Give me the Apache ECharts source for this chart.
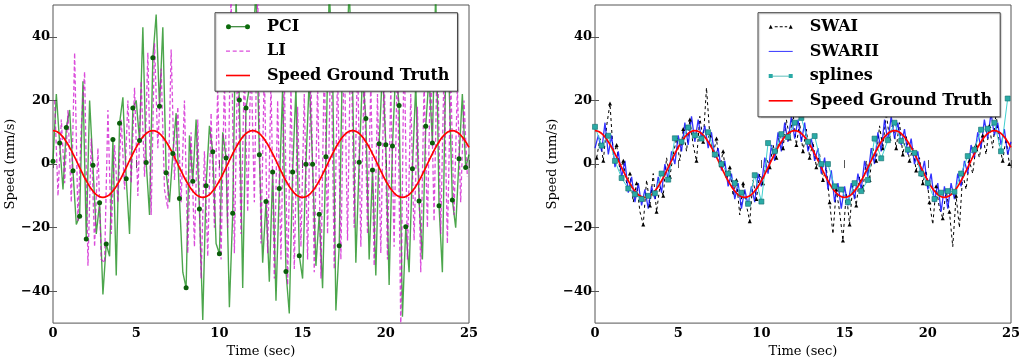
<!DOCTYPE html>
<html><head><meta charset="utf-8">
<script src="https://cdn.jsdelivr.net/npm/echarts@6/dist/echarts.min.js"></script>
<style>html,body{margin:0;padding:0;background:#fff}#c{width:1024px;height:363px}</style>
</head><body><div id="c"></div>
<script>
// ---- data ----
const xTicks = [0, 5, 10, 15, 20, 25];
const yTicks = [-40, -20, 0, 20, 40];

// Speed ground truth, sampled every 0.25 s from t = 0
const truthStart = 0, truthStep = 0.25;
const truth = [
 10.5,10.14,9.09,7.42,5.25,2.72,0,-2.72,-5.25,-7.42,-9.09,-10.14,-10.5,-10.14,-9.09,-7.42,-5.25,-2.72,0,2.72,5.25,7.42,9.09,10.14,
 10.5,10.14,9.09,7.42,5.25,2.72,0,-2.72,-5.25,-7.42,-9.09,-10.14,-10.5,-10.14,-9.09,-7.42,-5.25,-2.72,0,2.72,5.25,7.42,9.09,10.14,
 10.5,10.14,9.09,7.42,5.25,2.72,0,-2.72,-5.25,-7.42,-9.09,-10.14,-10.5,-10.14,-9.09,-7.42,-5.25,-2.72,0,2.72,5.25,7.42,9.09,10.14,
 10.5,10.14,9.09,7.42,5.25,2.72,0,-2.72,-5.25,-7.42,-9.09,-10.14,-10.5,-10.14,-9.09,-7.42,-5.25,-2.72,0,2.72,5.25,7.42,9.09,10.14,
 10.5,10.14,9.09,7.42,5.25
];

// PCI, every 0.2 s from t = 0 (markers on every second sample)
const pciStart = 0, pciStep = 0.2;
const pci = [
 0.9,22,6.6,-8,11.5,17,-2.1,-19,-16.4,26,-23.6,20,-0.4,-22,-12.2,-41,-25.1,-29,7.7,-35,
 12.8,21,-4.6,-22,17.6,20,7.4,43,0.5,-16,33.4,47,18.2,43,-2.7,-12,3.3,16,-10.8,-34,
 -38.9,9,-5.4,14,-14.1,-49,-6.8,12,3.9,-25,-28.2,10,1.9,-45,-15.5,52,20.1,-39,17.6,24,
 36,55,2.9,-31,-11.8,-37,-2.5,-43,-7.7,24,-33.8,-47,-2.5,24,-28.8,-36,-0.1,27,-0.1,-32,
 -15.8,-39,2.3,55,31,-46,-25.7,35,28,55,26,-31,0.6,28,14.3,-30,-1.9,-35,6.4,30,
 6.1,-38,5.7,30,18.4,-48,-19.7,-34,-1.5,25,-11.6,-30,11.9,28,6.6,55,-13.1,-34,30,26,
 -11.3,-20,1.7,22,-1.1,3
];

// LI, every 0.2 s from t = 0.1
const liStart = 0.1, liStep = 0.2;
const li = [
 20,-10,14,-6,17,-12,35,-18,12,29,-32,8,-26,5,-30,-31,17,-22,6,-12,
 14,-8,20,-6,24,-10,26,-4,35,-16,38,5,30,-8,-14,36,-5,18,-12,20,
 -28,10,-26,14,-36,4,-29,16,-20,24,-30,27,-20,55,-28,35,-22,30,-15,34,
 -12,55,-25,30,-28,26,-36,20,-30,28,-38,24,-33,18,-26,22,-30,30,-34,26,
 -36,32,-22,42,-33,30,-30,38,-24,44,-20,34,-26,30,-22,26,-32,22,-28,30,
 -30,24,-26,36,-52,40,-30,22,-24,18,-34,26,-20,34,-18,38,-22,30,-25,28,
 -16,24,-12,20,-4
];

// SWAI, every 0.2 s from t = 0.1
const swaiStart = 0.1, swaiStep = 0.2;
const swai = [
 2,8,1,12,19,3,6,-2,1,-6,-3,-12,-6,-15,-19,-5,-13,-3,-15,-7,
 -10,2,-4,3,8,1,11,4,14,6,1,15,7,24,9,3,8,-1,4,-5,
 -1,-10,-5,-16,-6,-13,-18,-5,-11,-3,-6,2,-1,6,2,10,5,14,8,16,
 6,13,4,11,2,7,-1,3,-5,-1,-12,-22,-8,-15,-24,-9,-19,-6,-13,-4,
 -8,1,-5,5,1,12,5,16,8,13,5,13,3,9,1,5,-2,2,-6,-2,
 -12,-19,-7,-14,-17,-8,-15,-26,-10,-20,-3,-8,1,-3,6,2,9,3,12,5,
 16,6,1,8,0
];

// SWARII, every 0.2 s from t = 0
const swariiStart = 0, swariiStep = 0.2;
const swarii = [
 5,9,4,13,3,9,-1,4,-4,1,-9,-4,-12,-6,-13,-8,-14,-7,-11,-4,-9,0,-5,4,0,9,4,13,6,15,
 7,14,8,12,5,10,2,5,-2,1,-7,-3,-11,-6,-14,-8,-13,-7,-12,-3,-7,2,-3,6,1,10,4,13,7,15,
 8,14,7,13,4,8,1,5,-3,2,-8,-2,-12,-6,-14,-7,-13,-6,-11,-3,-8,1,-4,5,0,10,4,14,7,15,
 8,13,6,11,3,8,0,4,-4,1,-8,-3,-12,-6,-15,-7,-14,-6,-11,-3,-7,1,-3,6,2,10,5,14,8,16,
 9,13,6,11,3,7
];

// splines, every 0.4 s from t = 0
const splinesStart = 0, splinesStep = 0.4;
const splines = [
 11.7,5.8,8.9,1,-4.4,-7.7,-9.5,-11,-10,-9.2,-3,-4.9,8.1,7,11.5,9,8,10,3,0,
 -3,-6,-9,-12.5,-3.5,-11.8,6.6,4,9.4,8.5,13,14.5,7,8.8,0,0,-7,-8,-12,-6,
 -8.5,-5,8,1.8,7.5,13,7.3,4.5,3.5,-3,-6,-11,-9,-8.5,-8.7,-3,2.5,4.5,10.8,11.1,
 13,4,20.6
];

// ---- helpers ----
function pairs(start, step, vals) {
  return vals.map((v, i) => [Math.round((start + i * step) * 100) / 100, v]);
}
const SERIF = "'DejaVu Serif', 'Liberation Serif', serif";
const minusFmt = v => (v < 0 ? '\u2212' + Math.abs(v) : String(v));

const GRID_LEFT = [53, 595];
const grids = GRID_LEFT.map(l => ({
  left: l, top: 5, width: 416, height: 322,
  show: true, borderColor: '#555', borderWidth: 1, backgroundColor: 'transparent'
}));

const xAxes = [], yAxes = [];
[0, 1].forEach(g => {
  xAxes.push({
    gridIndex: g, type: 'value', min: 0, max: 25, interval: 5, position: 'bottom',
    name: 'Time (sec)', nameLocation: 'middle', nameGap: 16,
    nameTextStyle: { fontFamily: SERIF, fontSize: 13, color: '#000' },
    axisLine: { show: false }, splitLine: { show: false },
    axisTick: { inside: true, length: 4, lineStyle: { color: '#555' }, customValues: xTicks },
    axisLabel: { fontFamily: SERIF, fontWeight: 'bold', fontSize: 13, color: '#000', margin: 4,
                 customValues: xTicks, formatter: minusFmt }
  });
  xAxes.push({
    gridIndex: g, type: 'value', min: 0, max: 25, interval: 5, position: 'top',
    axisLine: { show: false }, splitLine: { show: false }, axisLabel: { show: false },
    axisTick: { inside: true, length: 4, lineStyle: { color: '#555' }, customValues: xTicks }
  });
  yAxes.push({
    gridIndex: g, type: 'value', min: -50, max: 50, interval: 10, position: 'left',
    name: 'Speed (mm/s)', nameLocation: 'middle', nameGap: 36,
    nameTextStyle: { fontFamily: SERIF, fontSize: 13, color: '#000' },
    axisLine: { show: false }, splitLine: { show: false },
    axisTick: { inside: true, length: 4, lineStyle: { color: '#555' }, customValues: yTicks },
    axisLabel: { fontFamily: SERIF, fontWeight: 'bold', fontSize: 13, color: '#000', margin: 3,
                 customValues: yTicks, formatter: minusFmt }
  });
  yAxes.push({
    gridIndex: g, type: 'value', min: -50, max: 50, interval: 10, position: 'right',
    axisLine: { show: false }, splitLine: { show: false }, axisLabel: { show: false },
    axisTick: { inside: true, length: 4, lineStyle: { color: '#555' }, customValues: yTicks }
  });
});
// axis indices: grid0 -> x 0 (bottom), y 0 (left); grid1 -> x 2, y 2

const pciPairs = pairs(pciStart, pciStep, pci);
const pciMarkers = pciPairs.filter((_, i) => i % 2 === 0);

const series = [
  { name: 'PCI', type: 'line', xAxisIndex: 0, yAxisIndex: 0, data: pciPairs,
    symbol: 'circle', showSymbol: false, z: 2,
    lineStyle: { color: 'rgba(0,128,0,0.7)', width: 1.4 }, itemStyle: { color: '#0b6b0b' } },
  { name: 'LI', type: 'line', xAxisIndex: 0, yAxisIndex: 0, data: pairs(liStart, liStep, li),
    symbol: 'none', z: 2,
    lineStyle: { color: 'rgba(204,0,204,0.7)', width: 1.3, type: [4, 2.5] }, itemStyle: { color: 'rgba(204,0,204,0.7)' } },
  { name: 'PCI', type: 'scatter', xAxisIndex: 0, yAxisIndex: 0, data: pciMarkers,
    symbol: 'circle', symbolSize: 5, z: 3, itemStyle: { color: '#0b5e0b', opacity: 1 } },
  { name: 'Speed Ground Truth', type: 'line', xAxisIndex: 0, yAxisIndex: 0,
    data: pairs(truthStart, truthStep, truth), smooth: true, symbol: 'none', z: 3,
    lineStyle: { color: '#ff0000', width: 1.7 }, itemStyle: { color: '#ff0000' } },

  { name: 'SWAI', type: 'line', xAxisIndex: 2, yAxisIndex: 2, data: pairs(swaiStart, swaiStep, swai),
    symbol: 'triangle', showSymbol: true, z: 2,
    symbolSize: (v, p) => (p.dataIndex % 2 === 0 ? 4 : 0),
    lineStyle: { color: '#000', width: 1, type: [3, 3] }, itemStyle: { color: '#000', borderWidth: 0 } },
  { name: 'SWARII', type: 'line', xAxisIndex: 2, yAxisIndex: 2, data: pairs(swariiStart, swariiStep, swarii),
    symbol: 'none', z: 2,
    lineStyle: { color: 'rgba(0,0,255,0.8)', width: 1.3 }, itemStyle: { color: 'rgba(0,0,255,0.8)' } },
  { name: 'splines', type: 'line', xAxisIndex: 2, yAxisIndex: 2, data: pairs(splinesStart, splinesStep, splines),
    symbol: 'rect', symbolSize: 5, showSymbol: true, z: 3,
    lineStyle: { color: '#3fd0d0', width: 1 },
    itemStyle: { color: '#2aaaa6', borderColor: '#136e6b', borderWidth: 0.6 } },
  { name: 'Speed Ground Truth', type: 'line', xAxisIndex: 2, yAxisIndex: 2,
    data: pairs(truthStart, truthStep, truth), smooth: true, symbol: 'none', z: 3,
    lineStyle: { color: '#ff0000', width: 1.7 }, itemStyle: { color: '#ff0000' } }
];

const ICON_PCI = 'path://M0,7a2.5,2.5 0 1,0 5,0a2.5,2.5 0 1,0 -5,0z M19,7a2.5,2.5 0 1,0 5,0a2.5,2.5 0 1,0 -5,0z M5,6.5h14v1h-14z';
const ICON_LI = 'path://M0,6.4h4v1.2h-4z M6.7,6.4h4v1.2h-4z M13.4,6.4h4v1.2h-4z M20,6.4h4v1.2h-4z';
const ICON_SWAI = 'path://M0,9L2,5L4,9z M20,9L22,5L24,9z M6,6.5h3v1h-3z M11,6.5h3v1h-3z M16,6.5h2.5v1h-2.5z';
const ICON_SPL = 'path://M0,5h4v4h-4z M20,5h4v4h-4z M4,6.6h16v0.8h-16z';
const ICON_RED = 'path://M0,6.2h24v1.6h-24z';
const ICON_BLUE = 'path://M0,6.5h24v1h-24z';

const legendCommon = {
  orient: 'vertical', itemWidth: 24, itemHeight: 14, selectedMode: false, z: 20,
  backgroundColor: '#fff', borderColor: '#444', borderWidth: 1, borderRadius: 0,
  shadowColor: 'rgba(0,0,0,0.25)', shadowOffsetX: 1, shadowOffsetY: 1, shadowBlur: 1,
  symbolKeepAspect: true,
  itemStyle: { borderWidth: 0 },
  textStyle: { fontFamily: SERIF, fontWeight: 'bold', fontSize: 16, lineHeight: 16, color: '#000', padding: [0, 0, 0, 12] }
};

const option = {
  animation: false,
  backgroundColor: '#fff',
  grid: grids,
  xAxis: xAxes,
  yAxis: yAxes,
  legend: [
    Object.assign({}, legendCommon, {
      left: 215, top: 12.7, itemGap: 8.4, padding: [6, 8, 7.7, 11],
      data: [{ name: 'PCI', icon: ICON_PCI }, { name: 'LI', icon: ICON_LI }, { name: 'Speed Ground Truth', icon: ICON_RED }]
    }),
    Object.assign({}, legendCommon, {
      left: 758, top: 12.7, itemGap: 8.7, padding: [6, 8, 8, 10.7],
      data: [{ name: 'SWAI', icon: ICON_SWAI }, { name: 'SWARII', icon: ICON_BLUE }, { name: 'splines', icon: ICON_SPL }, { name: 'Speed Ground Truth', icon: ICON_RED }]
    })
  ],
  series: series
};

const chart = echarts.init(document.getElementById('c'), null, { renderer: 'canvas' });
chart.setOption(option);
</script>
</body></html>
